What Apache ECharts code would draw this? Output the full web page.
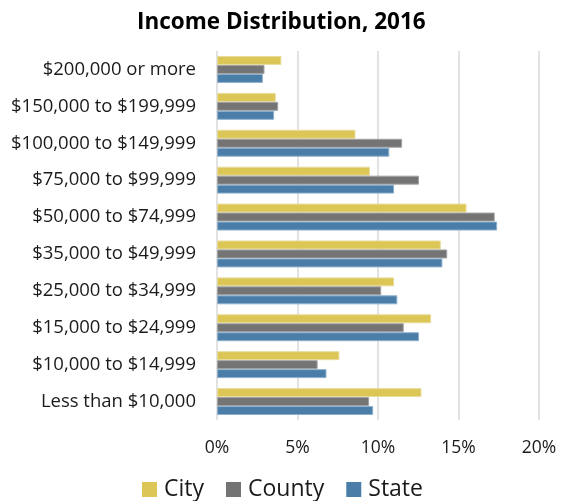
<!DOCTYPE html>
<html>
<head>
<meta charset="utf-8">
<script src="https://cdn.jsdelivr.net/npm/echarts@6/dist/echarts.min.js"></script>
<style>
  html, body { margin: 0; padding: 0; background: #fff; }
  #chart_income { width: 561px; height: 501px; }
</style>
</head>
<body>
<div id="chart_income"></div>
<script>
  // categories, top to bottom as in the picture
  var categories = [
    '$200,000 or more',
    '$150,000 to $199,999',
    '$100,000 to $149,999',
    '$75,000 to $99,999',
    '$50,000 to $74,999',
    '$35,000 to $49,999',
    '$25,000 to $34,999',
    '$15,000 to $24,999',
    '$10,000 to $14,999',
    'Less than $10,000'
  ];
  var cityData   = [4.0, 3.65, 8.6, 9.5, 15.5, 13.9, 11.0, 13.3, 7.6, 12.7];
  var countyData = [2.95, 3.8, 11.5, 12.55, 17.25, 14.3, 10.2, 11.6, 6.25, 9.45];
  var stateData  = [2.85, 3.55, 10.7, 11.0, 17.4, 14.0, 11.2, 12.55, 6.8, 9.7];
  var xTicks = [0, 5, 10, 15, 20];

  var font = '"Open Sans", "Noto Sans", sans-serif';
  var myChart = echarts.init(document.getElementById('chart_income'));

  function barSeries(name, data, color, border) {
    return {
      name: name,
      type: 'bar',
      data: data,
      barGap: '0%',
      barCategoryGap: '27%',
      itemStyle: { color: color, borderColor: border, borderWidth: 1 }
    };
  }

  var option = {
    backgroundColor: '#fff',
    animation: false,
    title: {
      text: 'Income Distribution, 2016',
      left: 132,
      top: 6,
      textStyle: { fontFamily: font, fontSize: 22.5, fontWeight: 'bold', color: '#000' }
    },
    legend: {
      data: ['City', 'County', 'State'],
      icon: 'rect',
      itemWidth: 15,
      itemHeight: 15,
      itemGap: 22,
      left: 137,
      top: 473,
      itemStyle: { borderWidth: 0 },
      textStyle: { fontFamily: font, fontSize: 23, color: '#1a1a1a', padding: [0, 0, 0, 2] }
    },
    grid: { left: 217, right: 22, top: 51, bottom: 81, containLabel: false },
    xAxis: {
      type: 'value',
      min: xTicks[0],
      max: xTicks[xTicks.length - 1],
      interval: 5,
      axisLabel: {
        formatter: '{value}%',
        fontFamily: font,
        fontSize: 17.5,
        color: '#1a1a1a',
        margin: 19
      },
      axisLine: { show: false },
      axisTick: { show: false },
      splitLine: { show: true, lineStyle: { color: '#d9d9d9', width: 1.5 } }
    },
    yAxis: {
      type: 'category',
      data: categories,
      inverse: true,
      axisLabel: { fontFamily: font, fontSize: 18.5, color: '#1a1a1a', margin: 21 },
      axisLine: { show: false },
      axisTick: { show: false },
      splitLine: { show: false }
    },
    series: [
      barSeries('City', cityData, '#dcc656', '#e8dc9c'),
      barSeries('County', countyData, '#747474', '#a3a3a3'),
      barSeries('State', stateData, '#4a7ea9', '#8eb0cc')
    ]
  };
  myChart.setOption(option);
</script>
</body>
</html>
